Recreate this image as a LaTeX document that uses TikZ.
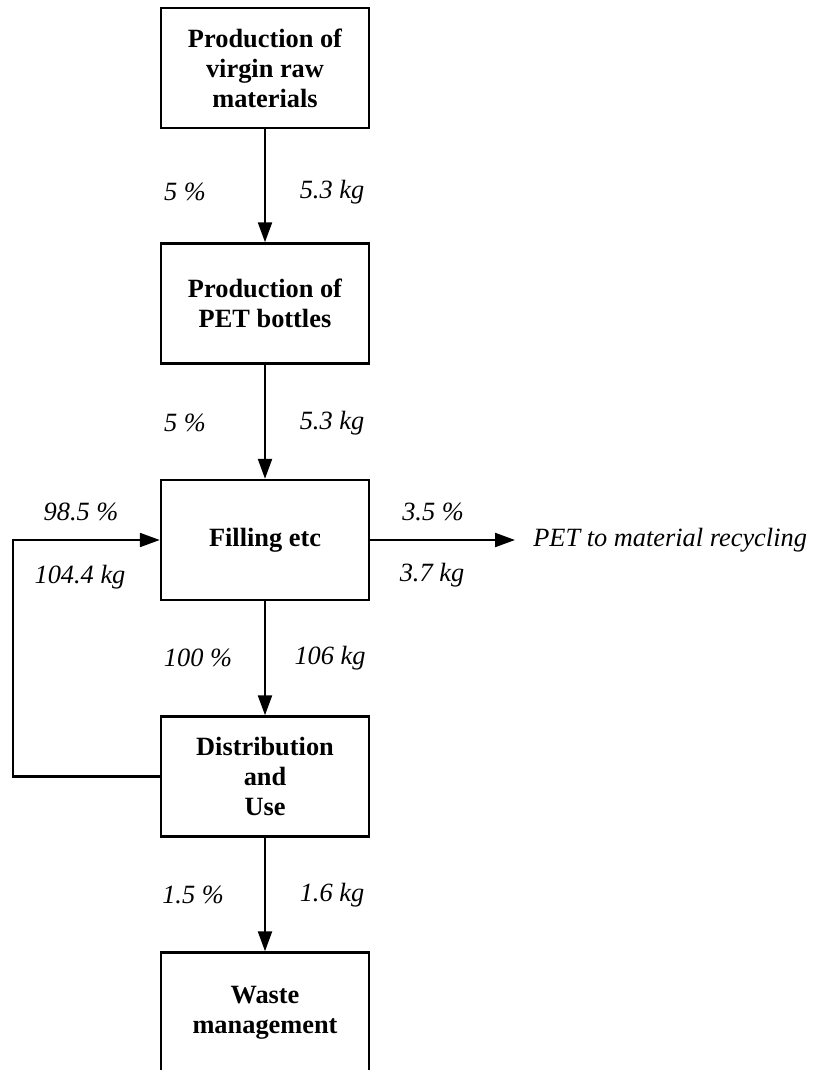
\documentclass[tikz,border=0pt]{standalone}
\usepackage{fontspec}
\setmainfont{Liberation Serif}
\usetikzlibrary{arrows.meta, positioning}

\begin{document}
\begin{tikzpicture}[
  stage/.style={draw, line width=1.4pt, minimum width=4.16cm, minimum height=2.4cm,
    align=center, font=\fontsize{15}{17}\selectfont\bfseries},
  flow/.style={-{Triangle[length=4mm, width=2.8mm]}, line width=1.3pt},
  lbl/.style={font=\fontsize{15}{17}\selectfont\itshape, inner sep=0pt}
]
\useasboundingbox (0,0) rectangle (16.32,-21.4);

\node[stage] (raw)   at (5.3,-1.36)  {Production of\\virgin raw\\materials};
\node[stage] (pet)   at (5.3,-6.07)  {Production of\\PET bottles};
\node[stage] (fill)  at (5.3,-10.8)  {Filling etc};
\node[stage] (dist)  at (5.3,-15.53) {Distribution\\and\\Use};
\node[stage] (waste) at (5.3,-20.25) {Waste\\management};
\node[lbl, anchor=west, inner xsep=0.36cm] (recyc) at (10.3,-10.8) {PET to material recycling};
\coordinate (loop) at (0.26,-15.53);

\draw[flow] (raw) -- (pet);
\draw[flow] (pet) -- (fill);
\draw[flow] (fill) -- (dist);
\draw[flow] (dist) -- (waste);
\draw[flow] (fill) -- (recyc);
\draw[flow] (dist.west) -- (loop) |- (fill.west);

\node[lbl] (rawpct) at (3.7,-3.84)  {5 \%};
\node[lbl] (rawkg)  at (6.64,-3.84) {5.3 kg};
\node[lbl] (petpct) at (3.7,-8.46)  {5 \%};
\node[lbl] (petkg)  at (6.64,-8.46) {5.3 kg};
\node[lbl] (backpct) at (1.62,-10.24) {98.5 \%};
\node[lbl] (backkg)  at (1.6,-11.54)  {104.4 kg};
\node[lbl] (recpct)  at (8.66,-10.24) {3.5 \%};
\node[lbl] (reckg)   at (8.64,-11.5)  {3.7 kg};
\node[lbl] (fillpct) at (3.96,-13.16) {100 \%};
\node[lbl] (fillkg)  at (6.6,-13.16)  {106 kg};
\node[lbl] (wastepct) at (3.86,-17.9) {1.5 \%};
\node[lbl] (wastekg)  at (6.64,-17.9) {1.6 kg};
\end{tikzpicture}
\end{document}
